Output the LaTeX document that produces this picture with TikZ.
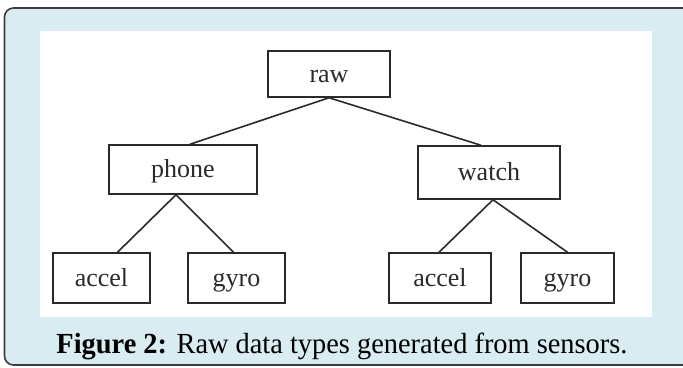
\documentclass[tikz,border=0pt]{standalone}
\usepackage{fontspec}
\setmainfont{Liberation Serif}
\definecolor{panelblue}{HTML}{D8ECF1}
\definecolor{framegray}{HTML}{3C3C3C}
\definecolor{inkgray}{HTML}{2A2A2A}
\begin{document}
\begin{tikzpicture}[x=1pt,y=-1pt,
  treebox/.style={draw=inkgray, line width=1.5pt, fill=white, inner sep=0pt,
    text height=16pt, text depth=0pt,
    font=\fontsize{26}{28}\selectfont, text=inkgray},
  edge/.style={draw=inkgray, line width=1.6pt}]
\useasboundingbox (0,0) rectangle (683,367);
% outer frame
\draw[framegray, line width=1.6pt, fill=panelblue, rounded corners=9pt]
  (695,8) -- (4.5,8) -- (4.5,365) -- (695,365);
% white panel
\fill[white] (40,31) rectangle (652,317);
% nodes
\node[treebox, minimum width=122pt, minimum height=46pt] (raw) at (329,74) {raw};
\node[treebox, minimum width=148pt, minimum height=49pt] (phone) at (183,169.5) {phone};
\node[treebox, minimum width=142pt, minimum height=53pt] (watch) at (489,172.5) {watch};
\node[treebox, minimum width=97pt, minimum height=50pt] (acc1) at (101.5,278) {accel};
\node[treebox, minimum width=97pt, minimum height=50pt] (gyr1) at (236.5,278) {gyro};
\node[treebox, minimum width=102pt, minimum height=50pt] (acc2) at (440,278) {accel};
\node[treebox, minimum width=93pt, minimum height=50pt] (gyr2) at (567.5,278) {gyro};
% connectors
\draw[edge] (raw.south) -- ([xshift=7pt]phone.north);
\draw[edge] (raw.south) -- ([xshift=-8pt]watch.north);
\draw[edge] ([xshift=-7pt]phone.south) -- ([xshift=16pt]acc1.north);
\draw[edge] ([xshift=-7pt]phone.south) -- ([xshift=-3pt]gyr1.north);
\draw[edge] ([xshift=4pt]watch.south) -- ([xshift=-1pt]acc2.north);
\draw[edge] ([xshift=4pt]watch.south) -- (gyr2.north);
% caption
\node[anchor=base, inner sep=0pt] (cap) at (342,353)
  {\resizebox{571pt}{20.5pt}{\fontsize{22}{26}\selectfont\textbf{Figure 2:} Raw data types generated from sensors.}};
\end{tikzpicture}
\end{document}
